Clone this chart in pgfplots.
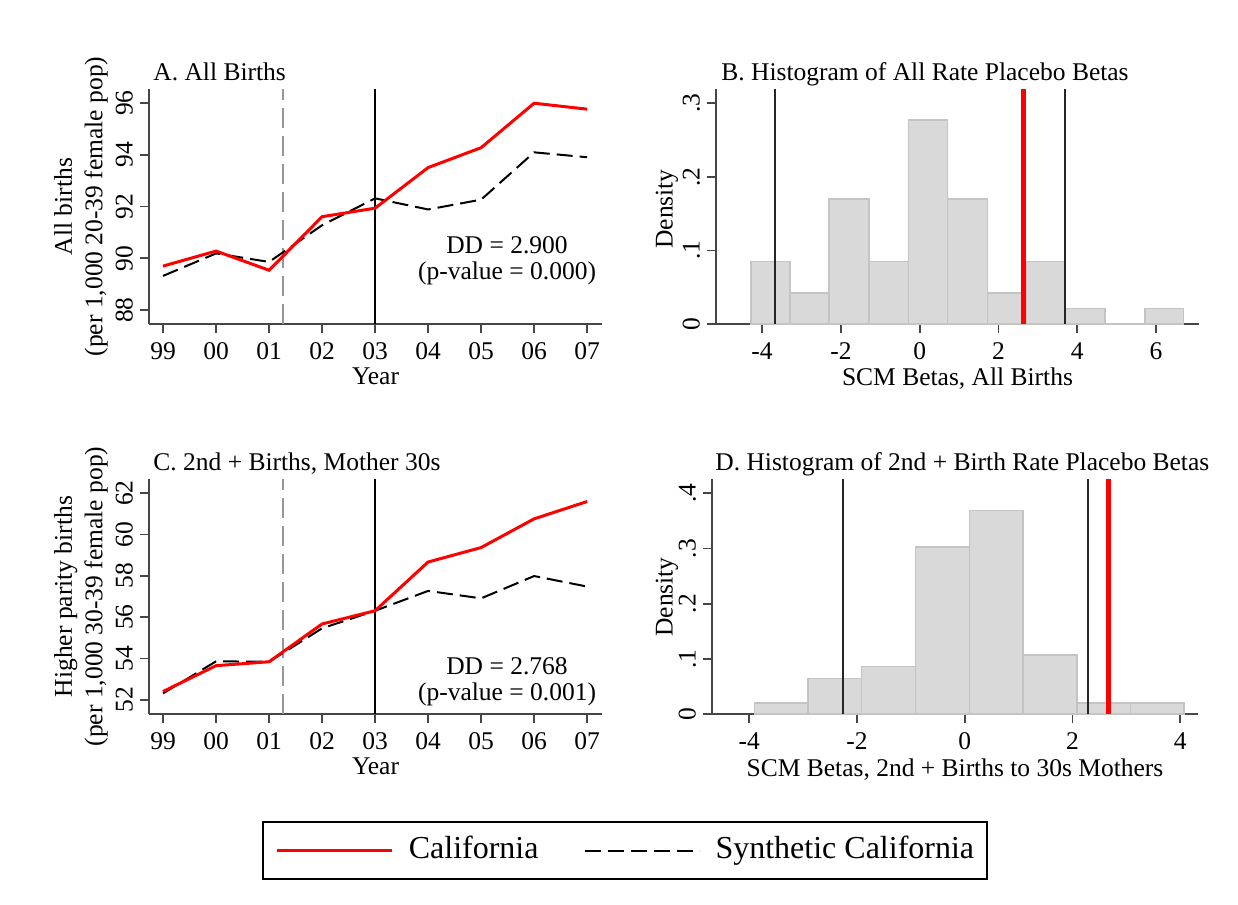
\documentclass[border=0pt]{standalone}
\usepackage{fontspec}
\setmainfont{Liberation Serif}
\usepackage{pgfplots}
\pgfplotsset{compat=1.18}

\definecolor{axgray}{RGB}{70,70,70}
\definecolor{barfill}{RGB}{217,217,217}
\definecolor{baredge}{RGB}{196,196,196}
\definecolor{vgray}{RGB}{150,150,150}
\newcommand{\basefont}{\fontsize{12.75}{15.3}\selectfont}
\newcommand{\legfont}{\fontsize{16}{19}\selectfont}

\pgfplotsset{
  stata/.style={
    scale only axis, height=117.5pt, anchor=south west,
    axis x line*=bottom, axis y line*=left,
    axis line style={-, line width=0.85pt, color=axgray},
    every tick/.style={line width=0.85pt, color=axgray},
    tick align=outside, major tick length=4.5pt,
    ticklabel style={font=\basefont},
    yticklabel style={rotate=90, anchor=south},
    xticklabel style={yshift=-1.25pt},
    clip=false,
  },
  calred/.style={color=red, line width=1.5pt},
  synth/.style={color=black, line width=1pt, dash pattern=on 8pt off 3.5pt},
  treatdash/.style={color=vgray, line width=0.9pt, dash pattern=on 10pt off 4pt},
  treatline/.style={color=black, line width=0.8pt},
  histline/.style={color=black!85, line width=1pt},
  bars/.style={ybar interval, fill=barfill, draw=baredge, line width=0.75pt},
}

\begin{document}
\begin{tikzpicture}
\useasboundingbox (0,0) rectangle (619pt,452.5pt);

% ---------------- Panel A ----------------
\begin{axis}[stata, at={(74.5pt,290.5pt)}, width=226.5pt,
  xmin=-0.265, xmax=8.28, ymin=87.46, ymax=96.55,
  xtick={0,...,8}, xticklabels={99,00,01,02,03,04,05,06,07},
  ytick={88,90,92,94,96}, yticklabels={88,90,92,94,96}]
\addplot[treatdash] coordinates {(2.26,87.46) (2.26,96.55)};
\addplot[treatline] coordinates {(4,87.46) (4,96.55)};
\addplot[synth] coordinates {(0,89.32) (1,90.19) (2,89.86) (3,91.28) (4,92.32) (5,91.89) (6,92.27) (7,94.10) (8,93.91)};
\addplot[calred] coordinates {(0,89.70) (1,90.28) (2,89.54) (3,91.61) (4,91.94) (5,93.51) (6,94.28) (7,96.00) (8,95.77)};
\end{axis}

% ---------------- Panel B ----------------
\begin{axis}[stata, at={(358pt,290.5pt)}, width=241.5pt,
  xmin=-5.17, xmax=7.09, ymin=0, ymax=0.3194,
  xtick={-4,-2,0,2,4,6}, xticklabels={-4,-2,0,2,4,6},
  ytick={0,0.1,0.2,0.3}, yticklabels={0,.1,.2,.3}]
\addplot[bars] coordinates {(-4.28,0.085) (-3.29,0.042) (-2.30,0.170) (-1.29,0.085) (-0.29,0.277) (0.71,0.170) (1.72,0.042) (2.71,0.085) (3.70,0.021) (4.70,0) (5.72,0.021) (6.70,0)};
\addplot[histline] coordinates {(-3.66,0) (-3.66,0.3194)};
\addplot[histline] coordinates {(3.68,0) (3.68,0.3194)};
\addplot[color=red, line width=2.5pt] coordinates {(2.64,0) (2.64,0.3194)};
\end{axis}

% ---------------- Panel C ----------------
\begin{axis}[stata, at={(74.5pt,95.5pt)}, width=226.5pt,
  xmin=-0.265, xmax=8.28, ymin=51.31, ymax=62.69,
  xtick={0,...,8}, xticklabels={99,00,01,02,03,04,05,06,07},
  ytick={52,54,56,58,60,62}, yticklabels={52,54,56,58,60,62},
  legend style={at={(1.0508,-0.5809)}, anchor=center, draw=black, line width=1pt,
    inner xsep=6.5pt, inner ysep=7pt,
    nodes={inner sep=0pt, text height=11pt, text depth=3.5pt, font=\legfont},
    /tikz/every odd column/.append style={column sep=7.5pt},
    /tikz/every even column/.append style={column sep=22.5pt}},
  legend columns=2,
  legend image code/.code={\draw[#1] (0pt,0pt) -- (57.5pt,0pt);}]
\addplot[treatdash, forget plot] coordinates {(2.26,51.31) (2.26,62.69)};
\addplot[treatline, forget plot] coordinates {(4,51.31) (4,62.69)};
\addplot[synth, forget plot] coordinates {(0,52.31) (1,53.86) (2,53.84) (3,55.46) (4,56.31) (5,57.27) (6,56.91) (7,57.99) (8,57.48)};
\addplot[calred, forget plot] coordinates {(0,52.40) (1,53.65) (2,53.84) (3,55.67) (4,56.31) (5,58.67) (6,59.37) (7,60.76) (8,61.60)};
\addlegendimage{calred}
\addlegendentry{California}
\addlegendimage{synth}
\addlegendentry{Synthetic California}
\end{axis}

% ---------------- Panel D ----------------
\begin{axis}[stata, at={(356pt,95.5pt)}, width=243pt,
  xmin=-4.69, xmax=4.33, ymin=0, ymax=0.426,
  xtick={-4,-2,0,2,4}, xticklabels={-4,-2,0,2,4},
  ytick={0,0.1,0.2,0.3,0.4}, yticklabels={0,.1,.2,.3,.4}]
\addplot[bars] coordinates {(-3.90,0.020) (-2.91,0.064) (-1.92,0.0857) (-0.91,0.303) (0.09,0.369) (1.08,0.107) (2.08,0.020) (3.08,0.020) (4.07,0)};
\addplot[histline] coordinates {(-2.26,0) (-2.26,0.426)};
\addplot[histline] coordinates {(2.28,0) (2.28,0.426)};
\addplot[color=red, line width=2.5pt] coordinates {(2.66,0) (2.66,0.426)};
\end{axis}

% ---------------- Titles and labels ----------------
\begin{scope}[every node/.style={font=\basefont, inner sep=0pt}]
\node[anchor=base west] at (76.5pt,412pt) {A. All Births};
\node[anchor=base west] at (360.5pt,412pt) {B. Histogram of All Rate Placebo Betas};
\node[anchor=base west] at (76.5pt,217pt) {C. 2nd + Births, Mother 30s};
\node[anchor=base west] at (357.5pt,217pt) {D. Histogram of 2nd + Birth Rate Placebo Betas};

\node[anchor=base] at (187.75pt,260pt) {Year};
\node[anchor=base] at (478.75pt,259.5pt) {SCM Betas, All Births};
\node[anchor=base] at (187.75pt,65pt) {Year};
\node[anchor=base] at (477.5pt,64.25pt) {SCM Betas, 2nd + Births to 30s Mothers};

\node[rotate=90, align=center] at (40.5pt,349.25pt) {All births\\(per 1,000 20-39 female pop)};
\node[rotate=90, align=center] at (40.5pt,154.25pt) {Higher parity births\\(per 1,000 30-39 female pop)};
\node[rotate=90] at (333.5pt,348pt) {Density};
\node[rotate=90] at (333.5pt,154pt) {Density};

\node[anchor=base] at (253.5pt,325.5pt) {DD = 2.900};
\node[anchor=base] at (253.5pt,312.5pt) {(p-value = 0.000)};
\node[anchor=base] at (253.5pt,115pt) {DD = 2.768};
\node[anchor=base] at (253.5pt,102.15pt) {(p-value = 0.001)};
\end{scope}
\end{tikzpicture}
\end{document}
